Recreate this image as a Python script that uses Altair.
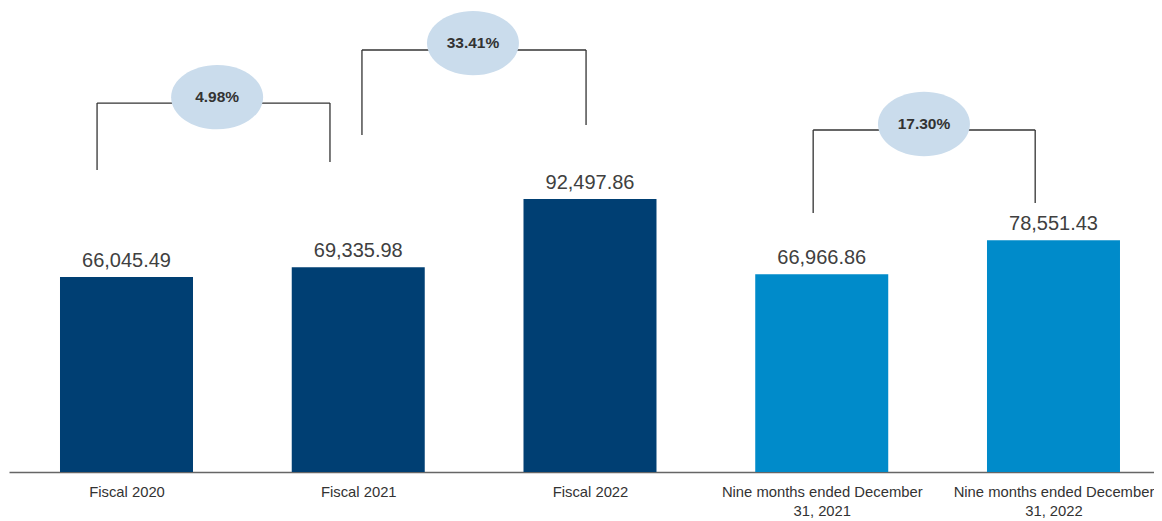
import json
import altair as alt
import pandas as pd

# ---- data ----
categories = [
    "Fiscal 2020",
    "Fiscal 2021",
    "Fiscal 2022",
    "Nine months ended December 31, 2021",
    "Nine months ended December 31, 2022",
]
values = [66045.49, 69335.98, 92497.86, 66966.86, 78551.43]
groups = ["Fiscal", "Fiscal", "Fiscal", "Nine months", "Nine months"]

growth_labels = ["4.98%", "33.41%", "17.30%"]

# annotation brackets (x in fractional bar-index units, y in value units)
bracket_left_x = [-0.127, 1.016, 2.963]
bracket_right_x = [0.878, 1.983, 3.921]
bracket_top_y = [125000, 142970, 115870]
bracket_left_bottom = [102300, 114170, 87750]
bracket_right_bottom = [105020, 117560, 91130]
bubble_x = [0.391, 1.495, 3.441]
bubble_y = [127000, 145300, 117900]

Y_MAX = 157200
W, H = 1145, 464
IDX_DOMAIN = [-0.5070, 4.4337]
BAR_PX = 133

bars_df = pd.DataFrame(
    {"idx": list(range(len(categories))), "cat": categories, "value": values, "group": groups}
)

seg_rows = []
for i in range(3):
    lx, rx, ty = bracket_left_x[i], bracket_right_x[i], bracket_top_y[i]
    seg_rows.append({"x": lx, "x2": lx, "y": bracket_left_bottom[i], "y2": ty})
    seg_rows.append({"x": lx, "x2": rx, "y": ty, "y2": ty})
    seg_rows.append({"x": rx, "x2": rx, "y": ty, "y2": bracket_right_bottom[i]})
seg_df = pd.DataFrame(seg_rows)

bub_df = pd.DataFrame({"x": bubble_x, "y": bubble_y, "label": growth_labels})

FONT = "Liberation Sans"


def wrap(label):
    k = label.find("December")
    if k > 0:
        return [label[: k + 8], label[k + 9:]]
    return [label]


label_lines = [wrap(c) for c in categories]
label_expr = json.dumps(label_lines).replace('"', "'") + "[round(datum.value)]"

yscale = alt.Scale(domain=[0, Y_MAX], nice=False, zero=True, padding=0)
xscale = alt.Scale(domain=IDX_DOMAIN, nice=False, zero=False, padding=0)

base = alt.Chart(bars_df)

bars = base.mark_bar(size=BAR_PX).encode(
    x=alt.X(
        "idx:Q",
        scale=xscale,
        axis=alt.Axis(
            title=None,
            values=list(range(len(categories))),
            labelAngle=0,
            ticks=False,
            grid=False,
            domain=True,
            domainColor="#666666",
            domainWidth=1.5,
            labelFont=FONT,
            labelFontSize=14.8,
            labelColor="#333333",
            labelPadding=12,
            labelLineHeight=19,
            labelLimit=400,
            labelFlush=False,
            labelOverlap=False,
            labelExpr=label_expr,
        ),
    ),
    y=alt.Y("value:Q", scale=yscale, axis=None),
    color=alt.Color(
        "group:N",
        scale=alt.Scale(domain=["Fiscal", "Nine months"], range=["#003F73", "#008BCA"]),
        legend=None,
    ),
)

value_text = base.mark_text(
    font=FONT, fontSize=20, color="#404040", baseline="alphabetic", dy=-10
).encode(
    x=alt.X("idx:Q", scale=xscale),
    y=alt.Y("value:Q", scale=yscale),
    text=alt.Text("value:Q", format=",.2f"),
)

segs = alt.Chart(seg_df).mark_rule(color="#333333", strokeWidth=1.3).encode(
    x=alt.X("x:Q", scale=xscale),
    x2="x2:Q",
    y=alt.Y("y:Q", scale=yscale),
    y2="y2:Q",
)

ellipse_path = (
    "M -1 0 C -1 -0.3866 -0.5523 -0.7 0 -0.7 "
    "C 0.5523 -0.7 1 -0.3866 1 0 "
    "C 1 0.3866 0.5523 0.7 0 0.7 "
    "C -0.5523 0.7 -1 0.3866 -1 0 Z"
)

bubbles = alt.Chart(bub_df).mark_point(
    shape=ellipse_path, size=8464, filled=True, fill="#CADCEC", opacity=1, strokeWidth=0
).encode(
    x=alt.X("x:Q", scale=xscale),
    y=alt.Y("y:Q", scale=yscale),
)

bubble_text = alt.Chart(bub_df).mark_text(
    font=FONT, fontSize=15.5, fontWeight="bold", color="#333333", baseline="middle"
).encode(
    x=alt.X("x:Q", scale=xscale),
    y=alt.Y("y:Q", scale=yscale),
    text="label:N",
)

chart = (
    alt.layer(bars, value_text, segs, bubbles, bubble_text)
    .properties(
        width=W,
        height=H,
        autosize=alt.AutoSizeParams(type="none"),
        padding={"left": 1, "top": 0, "right": 0, "bottom": 48},
    )
    .configure_view(stroke=None)
)

chart.save("out.html", embed_options={"renderer": "svg", "actions": False})
